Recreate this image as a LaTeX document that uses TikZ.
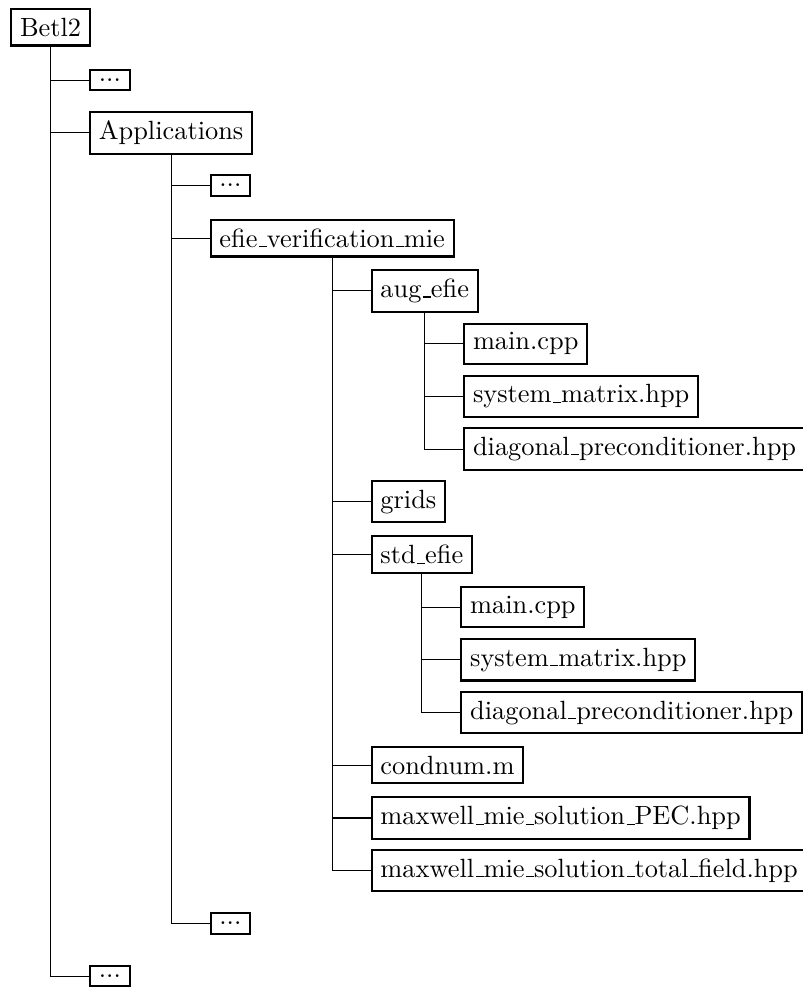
\documentclass[tikz,border=0pt]{standalone}
\usepackage{tikz}
\newcommand{\usc}{\leavevmode\kern.06em\vbox{\hrule width.3em}}

\begin{document}
\begin{tikzpicture}[filebox/.style={draw, thick},
  dirbox/.style={filebox, anchor=west, xshift=14.6pt}]
  \useasboundingbox (-19.2pt,10.4pt) rectangle ++(304.7pt,-375.3pt);
  % root folder
  \node[filebox] (betl) at (0,0) {Betl2};
  \node[dirbox] (dotsa) at (betl.center |- 0,-20pt) {...};
  \node[dirbox] (apps) at (betl.center |- 0,-40pt) {Applications};
  \node[dirbox] (dotsb) at (apps.center |- 0,-60pt) {...};
  \node[dirbox] (efie) at (apps.center |- 0,-80pt) {efie\usc verification\usc mie};
  % aug_efie
  \node[dirbox] (aug) at (efie.center |- 0,-100pt) {aug\usc efie};
  \node[dirbox] (augmain) at (aug.center |- 0,-120pt) {main.cpp};
  \node[dirbox] (augsys) at (aug.center |- 0,-140pt) {system\usc matrix.hpp};
  \node[dirbox] (augdiag) at (aug.center |- 0,-160pt) {diagonal\usc preconditioner.hpp};
  \node[dirbox] (grids) at (efie.center |- 0,-180pt) {grids};
  % std_efie
  \node[dirbox] (std) at (efie.center |- 0,-200pt) {std\usc efie};
  \node[dirbox] (stdmain) at (std.center |- 0,-220pt) {main.cpp};
  \node[dirbox] (stdsys) at (std.center |- 0,-240pt) {system\usc matrix.hpp};
  \node[dirbox] (stddiag) at (std.center |- 0,-260pt) {diagonal\usc preconditioner.hpp};
  \node[dirbox] (cond) at (efie.center |- 0,-280pt) {condnum.m};
  \node[dirbox] (pec) at (efie.center |- 0,-300pt) {maxwell\usc mie\usc solution\usc PEC.hpp};
  \node[dirbox] (total) at (efie.center |- 0,-320pt) {maxwell\usc mie\usc solution\usc total\usc field.hpp};
  \node[dirbox] (dotsc) at (apps.center |- 0,-340pt) {...};
  \node[dirbox] (dotsd) at (betl.center |- 0,-360pt) {...};
  % folder lines
  \draw (betl.south) |- (dotsa.west) (betl.south) |- (apps.west) (betl.south) |- (dotsd.west);
  \draw (apps.south) |- (dotsb.west) (apps.south) |- (efie.west) (apps.south) |- (dotsc.west);
  \draw (efie.south) |- (aug.west) (efie.south) |- (grids.west) (efie.south) |- (std.west);
  \draw (efie.south) |- (cond.west) (efie.south) |- (pec.west) (efie.south) |- (total.west);
  \draw (aug.south) |- (augmain.west) (aug.south) |- (augsys.west) (aug.south) |- (augdiag.west);
  \draw (std.south) |- (stdmain.west) (std.south) |- (stdsys.west) (std.south) |- (stddiag.west);
\end{tikzpicture}
\end{document}
